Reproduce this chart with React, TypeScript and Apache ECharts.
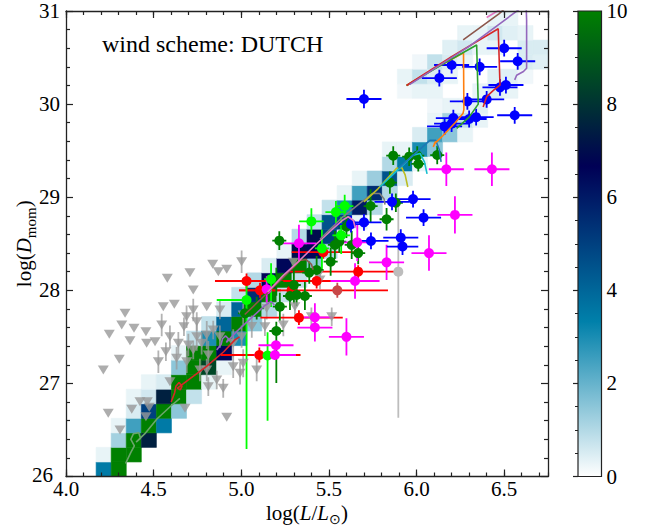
import React, { useEffect, useRef } from 'react';
import * as echarts from 'echarts';

const SERIF = '"Liberation Serif", "Times New Roman", serif';

// axis ranges and histogram binning
const LOGL_MIN = 4.0;
const LOGL_MAX = 6.75;
const LOGD_MIN = 26;
const LOGD_MAX = 31;
const N_BINS = 32;
const X_TICKS = [4.0, 4.5, 5.0, 5.5, 6.0, 6.5];
const Y_TICKS = [26, 27, 28, 29, 30, 31];
const CBAR_TICKS = [0, 2, 4, 6, 8, 10];

// ocean_r colour scale, 0 -> 10
const OCEAN_R = ['#ffffff', '#0080aa', '#000055', '#008000'];

// model population histogram: [logL bin, logD bin, count]
const modelCounts: number[][] = [
  [2, 0, 3.5], [3, 0, 10],
  [2, 1, 0.3], [3, 1, 10], [4, 1, 10],
  [3, 2, 1.2], [4, 2, 10], [5, 2, 7.5],
  [3, 3, 0.3], [4, 3, 2.5], [5, 3, 10], [6, 3, 3.5],
  [4, 4, 0.5], [5, 4, 5], [6, 4, 10], [7, 4, 1.5],
  [4, 5, 0.3], [5, 5, 0.6], [6, 5, 7.5], [7, 5, 10], [8, 5, 0.8],
  [5, 6, 0.3], [6, 6, 0.5], [7, 6, 10], [8, 6, 10], [9, 6, 0.3],
  [7, 7, 1.5], [8, 7, 10], [9, 7, 8.5], [10, 7, 0.3],
  [7, 8, 0.3], [8, 8, 10], [9, 8, 10], [10, 8, 6.5],
  [8, 9, 0.8], [9, 9, 3], [10, 9, 10], [11, 9, 3],
  [9, 10, 0.8], [10, 10, 4], [11, 10, 10], [12, 10, 1.5],
  [10, 11, 0.5], [11, 11, 4], [12, 11, 10], [13, 11, 1],
  [11, 12, 0.8], [12, 12, 5.5], [13, 12, 10], [14, 12, 0.8],
  [12, 13, 1], [13, 13, 6.5], [14, 13, 10], [15, 13, 0.8],
  [13, 14, 0.5], [14, 14, 6.5], [15, 14, 10], [16, 14, 1.5],
  [14, 15, 0.3], [15, 15, 7], [16, 15, 6.5], [17, 15, 1],
  [15, 16, 1], [16, 16, 7], [17, 16, 5], [18, 16, 0.3],
  [16, 17, 0.8], [17, 17, 4.5], [18, 17, 5], [19, 17, 0.3],
  [17, 18, 0.8], [18, 18, 3], [19, 18, 6], [20, 18, 1],
  [18, 19, 0.3], [19, 19, 2.5], [20, 19, 5.5], [21, 19, 1],
  [19, 20, 0.3], [20, 20, 1.3], [21, 20, 4.5], [22, 20, 0.5],
  [21, 21, 1], [22, 21, 3.5], [23, 21, 0.3],
  [21, 22, 0.3], [22, 22, 0.3], [23, 22, 3], [24, 22, 1.5],
  [23, 23, 0.5], [24, 23, 2.5], [25, 23, 1.5], [26, 23, 0.3],
  [24, 24, 0.3], [25, 24, 1.2], [26, 24, 0.8], [27, 24, 0.3],
  [24, 25, 0.2], [25, 25, 0.3], [26, 25, 0.3], [27, 25, 0.4],
  [22, 26, 0.2], [23, 26, 0.3], [24, 26, 0.3], [27, 26, 0.3], [28, 26, 0.5], [29, 26, 0.3],
  [22, 27, 0.3], [23, 27, 0.8], [24, 27, 0.5], [25, 27, 0.3], [28, 27, 0.4], [29, 27, 0.4], [30, 27, 0.2],
  [23, 28, 0.2], [24, 28, 0.8], [25, 28, 0.5], [26, 28, 0.3], [30, 28, 0.5], [31, 28, 0.4],
  [25, 29, 0.4], [26, 29, 0.6], [27, 29, 0.3], [28, 29, 0.3], [30, 29, 0.5], [31, 29, 0.5],
  [26, 30, 0.3], [27, 30, 0.3], [28, 30, 0.6], [29, 30, 0.4], [30, 30, 0.3],
  [28, 31, 0.3], [29, 31, 0.3],
];

// observed stars: [logL, logD, -errL, +errL, -errD, +errD]
const starsBlue: number[][] = [
  [6.50, 30.60, 0.1, 0.1, 0.09, 0.09], [6.577, 30.46, 0.1, 0.1, 0.09, 0.09],
  [6.20, 30.42, 0.1, 0.1, 0.09, 0.09], [6.36, 30.40, 0.1, 0.1, 0.09, 0.09],
  [6.13, 30.28, 0.1, 0.1, 0.09, 0.09], [5.70, 30.055, 0.1, 0.1, 0.1, 0.1],
  [6.476, 30.18, 0.1, 0.1, 0.09, 0.09], [6.51, 30.205, 0.1, 0.1, 0.09, 0.09],
  [6.40, 30.05, 0.1, 0.1, 0.09, 0.09], [6.29, 30.03, 0.1, 0.1, 0.09, 0.09],
  [6.56, 29.88, 0.1, 0.1, 0.09, 0.09], [6.21, 29.85, 0.1, 0.1, 0.09, 0.09],
  [6.30, 29.84, 0.1, 0.1, 0.09, 0.09], [6.34, 29.86, 0.1, 0.1, 0.09, 0.09],
  [6.16, 29.76, 0.1, 0.1, 0.09, 0.09], [6.20, 29.79, 0.1, 0.1, 0.09, 0.09],
  [5.86, 28.95, 0.1, 0.1, 0.09, 0.09], [5.98, 28.98, 0.1, 0.1, 0.09, 0.09],
  [6.04, 28.78, 0.1, 0.1, 0.09, 0.09], [5.70, 28.73, 0.1, 0.1, 0.09, 0.09],
  [5.626, 28.71, 0.1, 0.1, 0.09, 0.09], [5.74, 28.53, 0.1, 0.1, 0.09, 0.09],
  [5.91, 28.565, 0.1, 0.1, 0.09, 0.09], [5.92, 28.47, 0.09, 0.09, 0.09, 0.09],
];

const starsMagenta: number[][] = [
  [6.17, 29.30, 0.1, 0.1, 0.18, 0.18], [6.43, 29.30, 0.1, 0.1, 0.18, 0.18],
  [6.219, 28.81, 0.1, 0.1, 0.2, 0.2], [6.071, 28.40, 0.1, 0.1, 0.19, 0.19],
  [5.829, 28.30, 0.1, 0.1, 0.19, 0.19], [5.662, 28.515, 0.08, 0.08, 0.2, 0.2],
  [5.329, 28.505, 0.1, 0.1, 0.2, 0.2], [5.649, 28.10, 0.14, 0.14, 0.19, 0.19],
  [5.42, 27.71, 0.1, 0.1, 0.15, 0.15], [5.42, 27.60, 0.1, 0.1, 0.15, 0.15],
  [5.60, 27.50, 0.1, 0.1, 0.2, 0.2], [5.145, 28.01, 0.02, 0.02, 0.14, 0.14],
  [5.198, 27.41, 0.1, 0.1, 0.03, 0.03], [5.192, 27.305, 0.12, 0.12, 0.05, 0.05],
];

const starsRed: number[][] = [
  [5.03, 28.10, 0.18, 0.23, 0.08, 0.08], [5.107, 28.00, 0.12, 0.12, 0.08, 0.08],
  [5.287, 28.00, 0.30, 0.55, 0.07, 0.07], [5.43, 28.10, 0.21, 0.31, 0.08, 0.08],
  [5.468, 28.41, 0.18, 0.18, 0.07, 0.07], [5.329, 27.706, 0.22, 0.25, 0.08, 0.08],
  [5.667, 28.20, 0.39, 0.25, 0.07, 0.07], [5.103, 27.305, 0.22, 0.235, 0.08, 0.08],
];

const starsDarkRed: number[][] = [[5.548, 28.00, 0, 0, 0.08, 0.08]];

const starsLime: number[][] = [
  [5.03, 27.896, 0.17, 0.02, 1.60, 0.15], [5.15, 27.30, 0.04, 0.04, 0.70, 0.25],
  [5.17, 28.12, 0.04, 0.04, 0.30, 0.17], [5.40, 28.74, 0.07, 0.07, 0.14, 0.14],
  [5.54, 28.84, 0.06, 0.06, 0.12, 0.12], [5.59, 28.905, 0.05, 0.05, 0.12, 0.12],
  [5.46, 28.45, 0.04, 0.04, 0.22, 0.20], [5.57, 28.59, 0.05, 0.05, 0.2, 0.2],
];

const starsGreen: number[][] = [
  [5.867, 29.446, 0.04, 0.04, 0.10, 0.10], [5.958, 29.435, 0.04, 0.04, 0.10, 0.10],
  [6.004, 29.446, 0.04, 0.04, 0.10, 0.10], [6.01, 29.357, 0.04, 0.04, 0.08, 0.08],
  [6.118, 29.453, 0.04, 0.04, 0.10, 0.10], [5.848, 29.156, 0.04, 0.04, 0.12, 0.12],
  [5.738, 28.905, 0.04, 0.04, 0.18, 0.18], [5.882, 28.94, 0.04, 0.04, 0.10, 0.10],
  [5.829, 28.763, 0.04, 0.04, 0.12, 0.12], [5.217, 28.533, 0.04, 0.04, 0.10, 0.10],
  [5.534, 28.487, 0.04, 0.04, 0.15, 0.15], [5.60, 28.683, 0.04, 0.04, 0.12, 0.12],
  [5.63, 28.487, 0.04, 0.04, 0.15, 0.15], [5.667, 28.40, 0.04, 0.04, 0.12, 0.12],
  [5.51, 28.307, 0.04, 0.04, 0.15, 0.15], [5.43, 28.218, 0.04, 0.04, 0.15, 0.15],
  [5.388, 28.19, 0.04, 0.04, 0.12, 0.12], [5.30, 28.057, 0.04, 0.04, 0.2, 0.2],
  [5.363, 27.939, 0.04, 0.04, 0.15, 0.15], [5.278, 27.939, 0.04, 0.04, 0.15, 0.15],
  [5.316, 27.95, 0.04, 0.04, 0.12, 0.12], [5.22, 27.824, 0.04, 0.04, 0.15, 0.15],
  [5.20, 27.563, 0.04, 0.04, 0.56, 0.10], [5.021, 27.753, 0.04, 0.04, 0.12, 0.12],
  [5.088, 27.807, 0.04, 0.04, 0.12, 0.12], [5.20, 28.092, 0.04, 0.04, 0.15, 0.15],
  [5.559, 28.522, 0.04, 0.04, 0.12, 0.12],
];

const starsGrey: number[][] = [[5.896, 28.20, 0, 0, 1.57, 0.77]];

// upper limits: [logL, logD, half-length of bar]
const upperLimits: number[][] = [
  [4.247, 27.527, 0], [4.337, 27.753, 0], [4.318, 27.627, 0], [4.388, 27.592, 0],
  [4.365, 27.459, 0], [4.456, 27.555, 0], [4.46, 27.431, 0], [4.508, 27.448, 0],
  [4.546, 27.627, 0.12], [4.555, 27.824, 0], [4.578, 28.129, 0], [4.618, 27.85, 0],
  [4.707, 28.189, 0], [4.726, 28.003, 0], [4.688, 27.716, 0.12], [4.673, 27.609, 0.1],
  [4.726, 27.788, 0.12], [4.746, 27.663, 0.1], [4.803, 27.824, 0], [4.837, 28.279, 0],
  [4.869, 28.2, 0], [4.917, 28.226, 0], [4.878, 27.788, 0.1], [5.002, 28.307, 0.12],
  [4.593, 27.502, 0.12], [4.641, 27.431, 0.12], [4.698, 27.412, 0.12], [4.746, 27.502, 0.15],
  [4.774, 27.431, 0.12], [4.803, 27.52, 0.15], [4.84, 27.574, 0.1], [4.878, 27.502, 0.12],
  [4.954, 27.431, 0.15], [5.002, 27.502, 0.12], [5.135, 27.609, 0.1],
  [4.304, 27.259, 0], [4.213, 27.144, 0], [4.527, 27.233, 0.12], [4.57, 27.34, 0.1],
  [4.422, 26.803, 0], [4.464, 26.803, 0], [4.475, 26.743, 0], [4.456, 26.642, 0],
  [4.375, 26.722, 0], [4.308, 26.5, 0], [4.679, 26.733, 0], [4.917, 26.636, 0],
  [4.812, 26.965, 0.1], [4.803, 27.144, 0.12], [4.86, 27.037, 0.1], [4.897, 26.947, 0.1],
  [4.954, 27.179, 0.12], [5.088, 27.144, 0.12], [5.011, 27.216, 0.15], [4.993, 27.108, 0.12],
  [4.764, 27.144, 0.12], [4.689, 27.233, 0.12], [4.726, 27.359, 0.1], [4.593, 27.018, 0],
  [4.631, 27.27, 0.12], [4.812, 27.305, 0.15], [4.241, 26.679, 0],
  [5.297, 28.30, 0], [5.449, 28.11, 0.1], [5.516, 27.716, 0.1], [5.40, 27.716, 0.1],
  [5.24, 27.627, 0.12], [5.306, 27.824, 0.12], [5.145, 27.807, 0.12], [5.439, 28.164, 0],
  [5.06, 27.61, 0.12], [5.011, 27.735, 0.12],
];

// evolutionary tracks, [logL, logD]
const track1 = [[4.34, 26.14], [4.37, 26.26], [4.39, 26.33], [4.37, 26.40], [4.385, 26.46], [4.415, 26.47], [4.425, 26.41], [4.40, 26.37], [4.45, 26.46], [4.52, 26.62], [4.60, 26.76], [4.65, 26.84]];
const track2 = [[4.60, 26.80], [4.62, 26.90], [4.627, 26.97], [4.645, 27.01], [4.662, 26.97], [4.652, 26.93], [4.636, 26.95], [4.70, 27.04], [4.80, 27.18], [4.90, 27.34], [4.965, 27.47], [4.99, 27.50]];
const track3 = [[4.86, 27.36], [4.885, 27.42], [4.893, 27.48], [4.91, 27.51], [4.927, 27.48], [4.915, 27.44], [4.93, 27.47], [4.97, 27.55], [5.05, 27.69], [5.13, 27.83], [5.17, 27.88], [5.19, 27.84]];
const track4 = [[5.02, 27.74], [5.12, 27.92], [5.22, 28.10], [5.30, 28.25], [5.335, 28.32], [5.37, 28.33], [5.40, 28.28], [5.41, 28.22]];
const track5 = [[5.15, 27.98], [5.24, 28.16], [5.335, 28.325], [5.43, 28.50], [5.525, 28.665], [5.58, 28.755], [5.61, 28.79], [5.64, 28.75], [5.65, 28.67]];
const track6 = [[5.45, 28.55], [5.58, 28.79], [5.68, 28.94], [5.75, 29.04], [5.79, 29.04], [5.815, 28.98], [5.82, 28.92]];
const track7 = [[5.70, 28.95], [5.78, 29.09], [5.886, 29.31], [5.915, 29.32], [5.935, 29.24], [5.95, 29.11]];
const track8 = [[5.79, 29.11], [5.88, 29.27], [5.98, 29.45], [6.02, 29.47], [6.045, 29.38], [6.06, 29.25]];
const track9 = [[5.896, 29.31], [5.98, 29.45], [6.076, 29.61], [6.11, 29.61], [6.13, 29.51], [6.14, 29.38]];
const track10 = [[6.095, 29.54], [6.11, 29.60], [6.10, 29.57], [6.15, 29.66], [6.22, 29.80], [6.265, 29.90], [6.27, 29.94], [6.268, 30.55], [6.10, 30.38], [5.943, 30.20]];
const track11 = [[6.229, 29.74], [6.30, 29.86], [6.352, 30.0], [6.343, 30.635], [6.15, 30.43], [5.943, 30.20]];
const track12 = [[6.38, 29.97], [6.40, 30.08], [6.44, 30.15], [6.476, 30.205], [6.466, 30.81], [6.20, 30.51], [5.943, 30.20]];
const track13 = [[6.56, 30.26], [6.571, 30.31], [6.61, 30.35], [6.628, 30.385], [6.628, 30.9], [6.625, 31.08], [6.58, 31.01], [6.30, 30.62], [5.96, 30.21]];
const track14 = [[6.266, 30.69], [6.47, 30.97], [6.50, 31.02]];
const track15 = [[6.40, 30.93], [6.48, 31.02]];

const TRACKS = [
  { data: track1, color: '#6aa56a' },
  { data: track2, color: '#d62728' },
  { data: track3, color: '#9467bd' },
  { data: track4, color: '#8c564b' },
  { data: track5, color: '#e377c2' },
  { data: track6, color: '#7f7f7f' },
  { data: track7, color: '#bcbd22' },
  { data: track8, color: '#17becf' },
  { data: track9, color: '#1f77b4' },
  { data: track10, color: '#ff7f0e' },
  { data: track11, color: '#2ca02c' },
  { data: track12, color: '#d62728' },
  { data: track13, color: '#9467bd' },
  { data: track14, color: '#8c564b' },
  { data: track15, color: '#e377c2' },
];

const BIN_L = (LOGL_MAX - LOGL_MIN) / N_BINS;
const BIN_D = (LOGD_MAX - LOGD_MIN) / N_BINS;

function errorBars(rows: number[][], color: string, width: number, z: number, opacity = 1) {
  return {
    type: 'custom',
    xAxisIndex: 0,
    yAxisIndex: 0,
    z,
    silent: true,
    clip: true,
    data: rows,
    encode: { x: 0, y: 1 },
    renderItem: (_p: any, api: any) => {
      const x = api.value(0);
      const y = api.value(1);
      const xl = api.value(2), xh = api.value(3), yl = api.value(4), yh = api.value(5);
      const children: any[] = [];
      const style = { stroke: color, lineWidth: width, opacity };
      if (xl > 0 || xh > 0) {
        const a = api.coord([x - xl, y]);
        const b = api.coord([x + xh, y]);
        children.push({ type: 'line', shape: { x1: a[0], y1: a[1], x2: b[0], y2: b[1] }, style });
      }
      if (yl > 0 || yh > 0) {
        const a = api.coord([x, y - yl]);
        const b = api.coord([x, y + yh]);
        children.push({ type: 'line', shape: { x1: a[0], y1: a[1], x2: b[0], y2: b[1] }, style });
      }
      return { type: 'group', children };
    },
  };
}

function markers(rows: number[][], color: string, z: number, size: any = 10, symbol = 'circle', rotate = 0, opacity = 1) {
  return {
    type: 'scatter',
    xAxisIndex: 0,
    yAxisIndex: 0,
    z,
    silent: true,
    data: rows.map((r) => [r[0], r[1]]),
    symbol,
    symbolSize: size,
    symbolRotate: rotate,
    itemStyle: { color, opacity },
  };
}

const AXIS_COLOR = '#222';

function xAxisDef(position: string, interval: number, major: boolean, labels: boolean) {
  return {
    type: 'value',
    gridIndex: 0,
    position,
    min: LOGL_MIN,
    max: LOGL_MAX,
    interval,
    z: 10,
    nameMoveOverlap: false,
    axisLine: { show: major, onZero: false, lineStyle: { color: AXIS_COLOR, width: 1.3 } },
    axisTick: { show: true, inside: true, length: major ? 7 : 4, lineStyle: { color: AXIS_COLOR, width: 1.2 } },
    splitLine: { show: false },
    axisLabel: labels
      ? {
          show: true,
          showMaxLabel: false,
          margin: 5,
          lineHeight: 14,
          fontFamily: SERIF,
          fontSize: 21,
          color: '#000',
          formatter: (v: number) => (X_TICKS.some((t) => Math.abs(t - v) < 1e-6) ? v.toFixed(1) : ''),
        }
      : { show: false },
    ...(labels
      ? {
          name: '{n|log(}{i|L}{n|/}{i|L}{s|⊙}{n|)}',
          nameLocation: 'middle',
          nameGap: 22,
          nameTextStyle: {
            color: '#000',
            rich: {
              n: { fontFamily: SERIF, fontSize: 21, lineHeight: 28, color: '#000' },
              i: { fontFamily: SERIF, fontSize: 21, fontStyle: 'italic', lineHeight: 28, color: '#000' },
              s: { fontFamily: SERIF, fontSize: 14, lineHeight: 20, verticalAlign: 'bottom', color: '#000' },
            },
          },
        }
      : {}),
  };
}

function yAxisDef(position: string, labels: boolean) {
  return {
    type: 'value',
    gridIndex: 0,
    position,
    min: LOGD_MIN,
    max: LOGD_MAX,
    interval: 1,
    z: 10,
    nameMoveOverlap: false,
    axisLine: { show: true, onZero: false, lineStyle: { color: AXIS_COLOR, width: 1.3 } },
    axisTick: { show: true, inside: true, length: 7, lineStyle: { color: AXIS_COLOR, width: 1.2 } },
    minorTick: { show: true, splitNumber: 5, length: 4, lineStyle: { color: AXIS_COLOR, width: 1.2 } },
    splitLine: { show: false },
    minorSplitLine: { show: false },
    axisLabel: labels
      ? {
          show: true,
          margin: 6,
          lineHeight: 12,
          fontFamily: SERIF,
          fontSize: 21,
          color: '#000',
          // the lowest label is nudged left so it clears the first x label
          formatter: (v: number) => (v === LOGD_MIN ? `{low|${v}}` : Y_TICKS.includes(v) ? String(v) : ''),
          rich: {
            low: { fontFamily: SERIF, fontSize: 21, lineHeight: 12, color: '#000', padding: [0, 7, 3, 0] },
          },
        }
      : { show: false },
    ...(labels
      ? {
          name: '{n|log(}{i|D}{s|mom}{n|)}',
          nameLocation: 'middle',
          nameGap: 28,
          nameTextStyle: {
            color: '#000',
            rich: {
              n: { fontFamily: SERIF, fontSize: 21, lineHeight: 28, color: '#000' },
              i: { fontFamily: SERIF, fontSize: 21, fontStyle: 'italic', lineHeight: 28, color: '#000' },
              s: { fontFamily: SERIF, fontSize: 15, lineHeight: 20, verticalAlign: 'bottom', color: '#000' },
            },
          },
        }
      : {}),
  };
}

export default function App() {
  const ref = useRef<HTMLDivElement>(null);

  useEffect(() => {
    if (!ref.current) return;
    const chart = echarts.init(ref.current, undefined, { renderer: 'svg' });

    const heatSeries = {
      type: 'custom',
      xAxisIndex: 0,
      yAxisIndex: 0,
      z: 1,
      silent: true,
      data: modelCounts.map(([c, r, n]) => [LOGL_MIN + (c + 0.5) * BIN_L, LOGD_MIN + (r + 0.5) * BIN_D, n]),
      encode: { x: 0, y: 1 },
      renderItem: (_p: any, api: any) => {
        const cx = api.value(0);
        const cy = api.value(1);
        const p = api.coord([cx - BIN_L / 2, cy + BIN_D / 2]);
        const q = api.coord([cx + BIN_L / 2, cy - BIN_D / 2]);
        const color = api.visual('color');
        return {
          type: 'rect',
          shape: { x: p[0], y: p[1], width: q[0] - p[0], height: q[1] - p[1] },
          style: { fill: color, stroke: color, lineWidth: 0.6 },
        };
      },
    };

    const colorbarSeries = {
      type: 'custom',
      xAxisIndex: 4,
      yAxisIndex: 2,
      z: 1,
      silent: true,
      data: [[0, 0]],
      renderItem: (_p: any, api: any) => {
        const p = api.coord([0, 10]);
        const q = api.coord([1, 0]);
        return {
          type: 'rect',
          shape: { x: p[0], y: p[1], width: q[0] - p[0], height: q[1] - p[1] },
          style: {
            fill: new echarts.graphic.LinearGradient(0, 1, 0, 0, OCEAN_R.map((c, i) => ({ offset: i / (OCEAN_R.length - 1), color: c }))),
            stroke: '#222',
            lineWidth: 1.2,
          },
        };
      },
    };

    const trackSeries = TRACKS.map((t) => ({
      type: 'line',
      xAxisIndex: 0,
      yAxisIndex: 0,
      z: 6,
      silent: true,
      clip: true,
      showSymbol: false,
      symbol: 'none',
      data: t.data,
      lineStyle: { color: t.color, width: 1.6 },
    }));

    const limitBars = upperLimits.filter((r) => r[2] > 0).map((r) => [r[0], r[1], 0, 0, r[2], r[2]]);

    const option: any = {
      animation: false,
      backgroundColor: '#ffffff',
      grid: [
        { left: 66, top: 11, right: 103, bottom: 53.5, containLabel: false, outerBoundsMode: 'none' },
        { left: 578, top: 11, width: 23.5, bottom: 53.5, containLabel: false, outerBoundsMode: 'none' },
      ],
      xAxis: [
        xAxisDef('bottom', 0.5, true, true),
        xAxisDef('bottom', 0.1, false, false),
        xAxisDef('top', 0.5, true, false),
        xAxisDef('top', 0.1, false, false),
        { type: 'value', gridIndex: 1, min: 0, max: 1, show: false },
      ],
      yAxis: [
        yAxisDef('left', true),
        yAxisDef('right', false),
        {
          type: 'value',
          gridIndex: 1,
          position: 'right',
          min: 0,
          max: 10,
          interval: 2,
          z: 10,
          axisLine: { show: false },
          axisTick: { show: true, inside: true, length: 5, lineStyle: { color: AXIS_COLOR, width: 1.2 } },
          minorTick: { show: true, splitNumber: 4, length: 3, lineStyle: { color: AXIS_COLOR, width: 1 } },
          splitLine: { show: false },
          axisLabel: {
            margin: 5,
            fontFamily: SERIF,
            fontSize: 21,
            color: '#000',
            formatter: (v: number) => (CBAR_TICKS.includes(v) ? String(v) : ''),
          },
        },
      ],
      visualMap: [
        {
          type: 'continuous',
          show: false,
          seriesIndex: 0,
          dimension: 2,
          min: 0,
          max: 10,
          inRange: { color: OCEAN_R },
        },
      ],
      graphic: [
        {
          type: 'text',
          x: 102,
          y: 44,
          z: 20,
          style: {
            text: 'wind scheme: DUTCH',
            fontFamily: SERIF,
            fontSize: 24,
            fill: '#000',
            verticalAlign: 'middle',
          },
        },
      ],
      series: [
        heatSeries,
        colorbarSeries,
        errorBars(limitBars, '#9a9a9a', 1.8, 3, 0.75),
        markers(upperLimits, '#999999', 4, [11, 9], 'triangle', 180, 0.8),
        errorBars(starsGrey, '#bdbdbd', 1.8, 3),
        markers(starsGrey, '#bdbdbd', 4),
        errorBars(starsRed, '#ff0000', 1.8, 3),
        markers(starsRed, '#ff0000', 4),
        errorBars(starsDarkRed, '#c84848', 1.8, 3),
        markers(starsDarkRed, '#c84848', 4),
        errorBars(starsGreen, '#008000', 1.8, 3),
        markers(starsGreen, '#008000', 4),
        errorBars(starsLime, '#00ff00', 1.8, 3),
        markers(starsLime, '#00ff00', 4),
        errorBars(starsMagenta, '#ff00ff', 1.8, 3),
        markers(starsMagenta, '#ff00ff', 4),
        errorBars(starsBlue, '#0000ff', 1.8, 3),
        markers(starsBlue, '#0000ff', 4),
        ...trackSeries,
      ],
    };

    chart.setOption(option);
    return () => chart.dispose();
  }, []);

  return (
    <div
      ref={ref}
      style={{ position: 'fixed', left: 0, top: 0, width: 651, height: 530, background: '#fff' }}
    />
  );
}
